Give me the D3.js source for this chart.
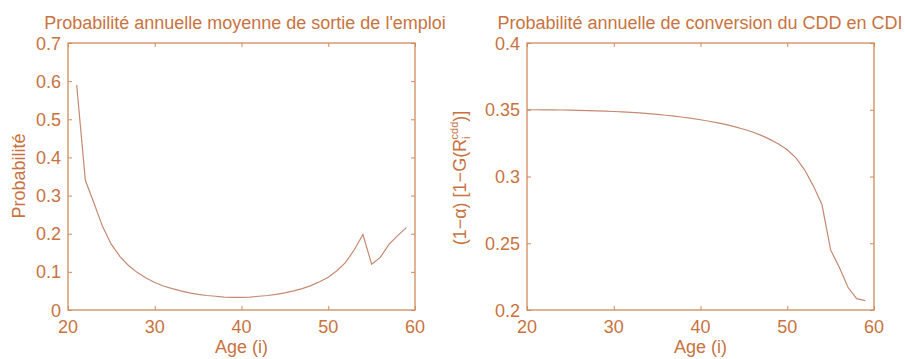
<!DOCTYPE html>
<html>
<head>
<meta charset="utf-8">
<script src="https://cdn.jsdelivr.net/npm/d3@7"></script>
<style>
  body { margin: 0; background: #fff; }
  text { font-family: "Liberation Sans", Arial, sans-serif; fill: #c8733f; }
</style>
</head>
<body>
<svg id="chart" width="905" height="359"></svg>
<script>
// Data
const ages = d3.range(20, 60);
// left panel: ages 21..59
const exitAges = d3.range(21, 60);
const exitProb = [0.59, 0.34, 0.28, 0.218, 0.172, 0.14, 0.116, 0.098, 0.084, 0.072,
  0.063, 0.056, 0.050, 0.045, 0.041, 0.038, 0.036, 0.034, 0.033, 0.033,
  0.034, 0.036, 0.038, 0.041, 0.045, 0.050, 0.056, 0.064, 0.074, 0.086,
  0.103, 0.125, 0.158, 0.198, 0.12, 0.138, 0.172, 0.195, 0.216];
// right panel: ages 20..59
const convProb = [0.3500, 0.3500, 0.3499, 0.3499, 0.3498, 0.3497, 0.3496, 0.3494, 0.3492, 0.3490,
  0.3487, 0.3484, 0.3480, 0.3476, 0.3471, 0.3465, 0.3459, 0.3452, 0.3444, 0.3435,
  0.3425, 0.3414, 0.3402, 0.3388, 0.3372, 0.3354, 0.3333, 0.3308, 0.3278, 0.3243,
  0.3200, 0.3140, 0.3050, 0.2930, 0.2790, 0.2450, 0.2320, 0.2170, 0.2085, 0.2070];

const xTicks = [20, 30, 40, 50, 60];
const leftYTicks = [0, 0.1, 0.2, 0.3, 0.4, 0.5, 0.6, 0.7];
const rightYTicks = [0.2, 0.25, 0.3, 0.35, 0.4];

const axisColor = '#d28a5c';
const lineColor = '#c48a72';

const svg = d3.select('#chart');

// draws one MATLAB-like panel with a box and inward ticks
function panel(opts) {
  const { left, right, top, bottom } = opts;
  const x = d3.scaleLinear().domain([20, 60]).range([left, right]);
  const y = d3.scaleLinear().domain(opts.yDomain).range([bottom, top]);
  const g = svg.append('g');

  // box
  g.append('rect')
    .attr('x', left).attr('y', top)
    .attr('width', right - left).attr('height', bottom - top)
    .attr('fill', 'none').attr('stroke', axisColor).attr('stroke-width', 1.3);

  // inward ticks, no domain line, labels outside
  const tickLen = 4;
  g.append('g').attr('transform', `translate(0,${bottom})`)
    .call(d3.axisTop(x).tickValues(opts.xTicks).tickSize(tickLen).tickFormat(''))
    .call(a => a.select('.domain').remove());
  g.append('g').attr('transform', `translate(0,${top})`)
    .call(d3.axisBottom(x).tickValues(opts.xTicks).tickSize(tickLen).tickFormat(''))
    .call(a => a.select('.domain').remove());
  g.append('g').attr('transform', `translate(${left},0)`)
    .call(d3.axisRight(y).tickValues(opts.yTicks).tickSize(tickLen).tickFormat(''))
    .call(a => a.select('.domain').remove());
  g.append('g').attr('transform', `translate(${right},0)`)
    .call(d3.axisLeft(y).tickValues(opts.yTicks).tickSize(tickLen).tickFormat(''))
    .call(a => a.select('.domain').remove());
  g.selectAll('.tick line').attr('stroke', axisColor);

  // tick labels
  g.selectAll('.xl').data(opts.xTicks).enter().append('text')
    .attr('x', d => x(d)).attr('y', bottom + 23)
    .attr('text-anchor', 'middle').attr('font-size', 18)
    .text(d => d);
  g.selectAll('.yl').data(opts.yTicks).enter().append('text')
    .attr('x', left - 7).attr('y', d => y(d) + 6.5)
    .attr('text-anchor', 'end').attr('font-size', 18)
    .text(opts.yFormat);

  // line
  g.append('path')
    .datum(opts.xs.map((a, i) => [a, opts.ys[i]]))
    .attr('fill', 'none').attr('stroke', lineColor).attr('stroke-width', 1.2)
    .attr('d', d3.line().x(d => x(d[0])).y(d => y(d[1])));

  // title and x label
  g.append('text')
    .attr('x', opts.titleX).attr('y', 29)
    .attr('text-anchor', 'middle').attr('font-size', 18)
    .text(opts.title);
  g.append('text')
    .attr('x', (left + right) / 2).attr('y', 353)
    .attr('text-anchor', 'middle').attr('font-size', 18)
    .text('Age (i)');
  return g;
}

const gl = panel({
  left: 68, right: 415, top: 43, bottom: 310,
  yDomain: [0, 0.7], xTicks, yTicks: leftYTicks,
  yFormat: d => d === 0 ? '0' : d3.format('.1f')(d),
  xs: exitAges, ys: exitProb,
  title: "Probabilité annuelle moyenne de sortie de l'emploi", titleX: 245
});
gl.append('text')
  .attr('transform', 'translate(25,176) rotate(-90)')
  .attr('text-anchor', 'middle').attr('font-size', 18)
  .text('Probabilité');

const gr = panel({
  left: 527, right: 874, top: 43, bottom: 310,
  yDomain: [0.2, 0.4], xTicks, yTicks: rightYTicks,
  yFormat: d => d3.format('')(+d.toFixed(2)),
  xs: ages, ys: convProb,
  title: 'Probabilité annuelle de conversion du CDD en CDI', titleX: 700
});
const yl = gr.append('text')
  .attr('transform', 'translate(466,178) rotate(-90)')
  .attr('text-anchor', 'middle').attr('font-size', 18);
yl.append('tspan').text('(1\u2212\u03b1) [1\u2212G(R');
yl.append('tspan').attr('font-size', 11).attr('baseline-shift', '-4').text('i');
yl.append('tspan').attr('font-size', 11).attr('dx', -3).attr('baseline-shift', '8').text('cdd');
yl.append('tspan').text(')]');
</script>
</body>
</html>
